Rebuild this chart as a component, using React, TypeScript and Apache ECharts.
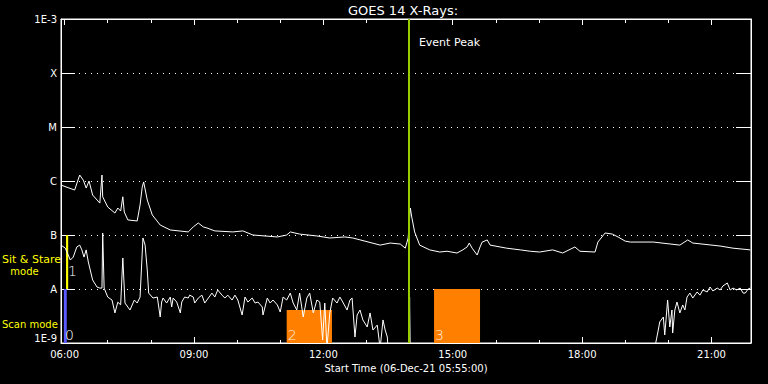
import React, { useEffect, useRef } from 'react';
import * as echarts from 'echarts';

const X_MIN = '05:55';
const X_MAX = '21:55';
const majorHours = [6, 9, 12, 15, 18, 21];
const minorHours = [6, 7, 8, 9, 10, 11, 12, 13, 14, 15, 16, 17, 18, 19, 20, 21];
const levelExps = [-9, -8, -7, -6, -5, -4, -3];
const levelLabels = ['1E-9', 'A', 'B', 'C', 'M', 'X', '1E-3'];

// GOES long channel (1-8 A)
const longTimes = [
  '05:55', '06:14', '06:21', '06:26', '06:30', '06:34', '06:39', '06:49', '06:52', '06:53',
  '07:00', '07:10', '07:14', '07:18', '07:21', '07:23', '07:28', '07:41', '07:45', '07:48',
  '07:50', '07:55', '08:02', '08:13', '08:27', '08:52', '08:59', '09:06', '09:13', '09:18',
  '09:29', '09:54', '10:08', '10:22', '10:56', '11:09', '11:14', '11:27', '11:51', '12:09',
  '12:30', '12:41', '13:19', '13:33', '13:47', '13:54', '13:58', '14:01', '14:03', '14:07',
  '14:14', '14:28', '14:42', '14:52', '15:06', '15:14', '15:20', '15:23', '15:27', '15:34',
  '15:38', '15:41', '15:48', '15:52', '16:15', '16:34', '16:48', '17:01', '17:19', '17:33',
  '17:50', '17:57', '18:18', '18:22', '18:32', '18:42', '18:50', '19:00', '19:07', '19:39',
  '20:16', '20:27', '20:34', '21:12', '21:30', '21:54',
];
const longFlux = [
  8.4e-7, 6.8e-7, 1.29e-6, 1.04e-6, 7.4e-7, 1.0e-6, 5.5e-7, 3.9e-7, 1.29e-6, 5.1e-7,
  3.3e-7, 2.55e-7, 3.16e-7, 2.78e-7, 5.1e-7, 2.67e-7, 1.9e-7, 1.82e-7, 3.6e-7, 7.7e-7,
  9.6e-7, 4.45e-7, 2.35e-7, 1.53e-7, 1.24e-7, 1.14e-7, 1.41e-7, 1.67e-7, 1.41e-7, 1.35e-7,
  1.19e-7, 1.14e-7, 1.19e-7, 1.0e-7, 9.2e-8, 1.0e-7, 1.14e-7, 1.04e-7, 9.6e-8, 8.8e-8,
  9.2e-8, 8.8e-8, 6.5e-8, 7.1e-8, 6.8e-8, 5.7e-8, 8.8e-8, 3.16e-7, 2.15e-7, 1.14e-7,
  6.5e-8, 5.3e-8, 4.84e-8, 5.0e-8, 4.64e-8, 5.3e-8, 6.0e-8, 7.1e-8, 5.7e-8, 4.26e-8,
  6.0e-8, 7.4e-8, 8.1e-8, 6.5e-8, 5.7e-8, 5.3e-8, 5.0e-8, 4.84e-8, 5.3e-8, 4.64e-8,
  6.0e-8, 5.0e-8, 4.84e-8, 7.4e-8, 1.09e-7, 1.04e-7, 9.2e-8, 7.7e-8, 7.4e-8, 7.4e-8,
  6.5e-8, 8.1e-8, 7.1e-8, 6.25e-8, 5.7e-8, 5.3e-8,
];

// GOES short channel (0.5-4 A)
const shortTimes = [
  '05:55', '06:01', '06:08', '06:12', '06:17', '06:21', '06:24', '06:27', '06:30', '06:33',
  '06:39', '06:45', '06:49', '06:52', '06:53', '06:55', '07:00', '07:06', '07:10', '07:14',
  '07:18', '07:21', '07:24', '07:31', '07:37', '07:41', '07:45', '07:49', '07:52', '07:55',
  '07:57', '08:03', '08:09', '08:13', '08:15', '08:17', '08:22', '08:27', '08:29', '08:31',
  '08:36', '08:41', '08:43', '08:47', '08:52', '08:54', '08:59', '09:01', '09:06', '09:11',
  '09:15', '09:20', '09:25', '09:29', '09:33', '09:39', '09:43', '09:47', '09:53', '09:57',
  '10:01', '10:07', '10:11', '10:15', '10:21', '10:25', '10:29', '10:35', '10:36', '10:42',
  '10:46', '10:50', '10:56', '11:00', '11:04', '11:09', '11:14', '11:18', '11:23', '11:27',
  '11:32', '11:37', '11:41', '11:46', '11:51', '11:55', '11:59', '12:02', '12:05', '12:09',
  '12:13', '12:19', '12:23', '12:27', '12:33', '12:37', '12:40', '12:44', '12:47', '12:51',
  '12:55', '13:01', '13:05', '13:09', '13:15', '13:19', '13:23', '13:26', '13:29', '13:31',
  '13:59', '14:00', '14:01', '19:40', '19:41', '19:46', '19:48', '19:53', '19:55', '19:59',
  '20:02', '20:05', '20:06', '20:09', '20:12', '20:16', '20:20', '20:23', '20:26', '20:30',
  '20:34', '20:40', '20:44', '20:48', '20:54', '20:58', '21:02', '21:08', '21:12', '21:16',
  '21:22', '21:26', '21:30', '21:35', '21:40', '21:44', '21:47', '21:51', '21:54',
];
const shortFlux = [
  6.5e-8, 5.7e-8, 3.44e-8, 3.9e-8, 6.0e-8, 6.5e-8, 5.3e-8, 3.9e-8, 5.3e-8, 3.16e-8,
  1.47e-8, 1.09e-8, 1.04e-8, 1.04e-8, 1.09e-7, 1.04e-8, 7.1e-9, 6.25e-9, 3.6e-9, 5.7e-9,
  5.1e-9, 3.75e-8, 5.5e-9, 4.08e-9, 6.25e-9, 5.5e-9, 7.1e-9, 8.8e-8, 6.5e-8, 2.25e-8,
  8.4e-9, 6.8e-9, 7.1e-9, 3.03e-9, 5.74e-9, 6.8e-9, 5.5e-9, 7.1e-9, 4.64e-9, 6.8e-9,
  5.74e-9, 3.6e-9, 5.74e-9, 7.1e-9, 6.8e-9, 7.7e-9, 7.1e-9, 5.5e-9, 6.8e-9, 7.7e-9,
  5.5e-9, 6.8e-9, 8.4e-9, 7.1e-9, 9.6e-9, 7.7e-9, 6.8e-9, 7.7e-9, 6.25e-9, 7.7e-9,
  6.25e-9, 3.3e-9, 7.1e-9, 5.74e-9, 6.8e-9, 5.5e-9, 5.74e-9, 4.64e-9, 3.3e-9, 6.8e-9,
  5.5e-9, 6.25e-9, 5.06e-9, 3.75e-9, 7.1e-9, 6.25e-9, 8.4e-9, 5.5e-9, 4.08e-9, 8.4e-9,
  3.03e-9, 6.8e-9, 8.4e-9, 3.6e-9, 6.25e-9, 5.74e-9, 1.14e-9, 5.5e-9, 8e-10, 3.6e-9,
  6.8e-9, 5.5e-9, 7.1e-9, 5.74e-9, 4.08e-9, 6.25e-9, 6.8e-9, 1.29e-9, 3.3e-9, 4.08e-9,
  2.67e-9, 1.98e-9, 3.6e-9, 1.74e-9, 2.15e-9, 8e-10, 2.67e-9, 1.74e-9, 1.29e-9, 5e-10,
  5e-10, 7.1e-9, 5e-10, 5e-10, 8e-10, 1.74e-9, 2.45e-9, 3.03e-9, 1.41e-9, 6.25e-9,
  1.98e-9, 4.08e-9, 1.53e-9, 4.08e-9, 5.74e-9, 3.6e-9, 5.06e-9, 4.08e-9, 7.1e-9, 8.4e-9,
  6.8e-9, 8.8e-9, 7.7e-9, 9.6e-9, 8.8e-9, 1.09e-8, 9.2e-9, 1.04e-8, 9.6e-9, 1.14e-8,
  1.29e-8, 9.6e-9, 1.04e-8, 9.6e-9, 1.04e-8, 8.4e-9, 8.4e-9, 1.0e-8, 1.04e-8,
];

const regionNames = ['0', '1', '2', '3'];
const regionStart = ['05:59', '06:02', '11:09', '14:34'];
const regionEnd = ['06:03', '06:05', '12:12', '15:38'];
const regionLow = [1e-9, 1e-8, 1e-9, 1e-9];
const regionHigh = [1e-8, 1e-7, 4.1e-9, 1e-8];
const regionColors = ['#5a5aff', '#ffff00', '#ff8000', '#ff8000'];
const regionLabelColors = ['#ffffff', '#ffffff', '#fff0e0', '#fff0e0'];

const eventTime = '13:59';
const eventLabel = 'Event Peak';
const eventLabelFlux = 3.6e-4;

const FONT = 'DejaVu Sans';

function toH(s: string): number {
  const [h, m] = s.split(':').map(Number);
  return h + m / 60;
}

export default function App() {
  const ref = useRef<HTMLDivElement>(null);
  useEffect(() => {
    if (!ref.current) return;
    const chart = echarts.init(ref.current, undefined, { renderer: 'svg' });
    const xmin = toH(X_MIN);
    const xmax = toH(X_MAX);
    const hourFmt = (v: number) => String(Math.round(v)).padStart(2, '0') + ':00';
    const levelFmt = (v: number) => {
      const e = Math.round(Math.log10(v));
      const i = levelExps.indexOf(e);
      return i >= 0 ? levelLabels[i] : '';
    };
    const xBase = (position: string, ticks: number[], len: number, showLine: boolean, showLabel: boolean) => ({
      type: 'value',
      position,
      min: xmin,
      max: xmax,
      axisLine: { show: showLine, lineStyle: { color: '#fff', width: 1 } },
      axisTick: { show: true, inside: true, length: len, customValues: ticks, lineStyle: { color: '#fff', width: 1 } },
      axisLabel: showLabel
        ? { show: true, customValues: ticks, color: '#fff', fontSize: 10, fontFamily: FONT, margin: 6, formatter: hourFmt }
        : { show: false },
      splitLine: { show: false },
    });
    const longData = longTimes.map((t, i) => [toH(t), longFlux[i]]);
    const shortData = shortTimes.map((t, i) => [toH(t), shortFlux[i]]);
    const areas = regionNames.map((n, i) => [
      {
        name: n,
        xAxis: toH(regionStart[i]),
        yAxis: regionLow[i],
        itemStyle: { color: regionColors[i], opacity: 1 },
        label: {
          show: true,
          position: 'insideBottomLeft',
          distance: 1,
          offset: i === 1 ? [1, -10] : [0, 0],
          color: regionLabelColors[i],
          fontSize: 14,
          fontFamily: FONT,
          fontWeight: 200,
          formatter: '{b}',
        },
      },
      { xAxis: toH(regionEnd[i]), yAxis: regionHigh[i] },
    ]);
    chart.setOption({
      animation: false,
      backgroundColor: '#000',
      grid: { left: 61, right: 17, top: 19, bottom: 41, show: true, borderColor: '#fff', borderWidth: 1, backgroundColor: 'transparent' },
      xAxis: [
        {
          ...xBase('bottom', majorHours, 6, true, true),
          name: 'Start Time (06-Dec-21 05:55:00)',
          nameLocation: 'middle',
          nameGap: 20,
          nameTextStyle: { color: '#fff', fontSize: 10, fontFamily: FONT },
        },
        xBase('bottom', minorHours, 3, false, false),
        xBase('top', majorHours, 6, true, false),
        xBase('top', minorHours, 4, false, false),
      ],
      yAxis: [
        {
          type: 'log',
          logBase: 10,
          min: 1e-9,
          max: 1e-3,
          position: 'left',
          axisLine: { show: true, lineStyle: { color: '#fff', width: 1 } },
          axisTick: { show: true, inside: true, length: 14, lineStyle: { color: '#fff', width: 1 } },
          axisLabel: {
            show: true,
            color: '#fff',
            fontSize: 10,
            fontFamily: FONT,
            margin: 4,
            formatter: levelFmt,
            verticalAlignMinLabel: 'bottom',
            verticalAlignMaxLabel: 'top',
          },
          splitLine: { show: true, lineStyle: { color: '#fff', width: 1, type: [1, 5] } },
        },
        {
          type: 'log',
          logBase: 10,
          min: 1e-9,
          max: 1e-3,
          position: 'right',
          axisLine: { show: true, lineStyle: { color: '#fff', width: 1 } },
          axisTick: { show: true, inside: true, length: 15, lineStyle: { color: '#fff', width: 1 } },
          axisLabel: { show: false },
          splitLine: { show: false },
        },
      ],
      graphic: [
        { type: 'text', x: 403, y: 10, style: { text: 'GOES 14 X-Rays:', fill: '#fff', fontSize: 13, fontFamily: FONT, align: 'center', verticalAlign: 'middle' } },
        { type: 'text', x: 2, y: 259, style: { text: 'Sit & Stare', fill: '#ffff00', fontSize: 11, fontFamily: FONT, align: 'left', verticalAlign: 'middle' } },
        { type: 'text', x: 24.5, y: 271.5, style: { text: 'mode', fill: '#ffff00', fontSize: 10, fontFamily: FONT, align: 'center', verticalAlign: 'middle' } },
        { type: 'text', x: 2, y: 324, style: { text: 'Scan mode', fill: '#ffff00', fontSize: 10, fontFamily: FONT, align: 'left', verticalAlign: 'middle' } },
      ],
      series: [
        {
          name: 'regions',
          type: 'line',
          data: [],
          z: 1,
          markArea: { silent: true, data: areas },
        },
        {
          name: 'long',
          type: 'line',
          data: longData,
          showSymbol: false,
          z: 2,
          lineStyle: { color: '#fff', width: 1 },
          clip: true,
        },
        {
          name: 'short',
          type: 'line',
          data: shortData,
          showSymbol: false,
          z: 2,
          lineStyle: { color: '#fff', width: 1 },
          clip: true,
        },
        {
          name: 'event',
          type: 'line',
          data: [],
          z: 3,
          markLine: {
            silent: true,
            symbol: ['none', 'none'],
            lineStyle: { color: '#99cc00', width: 2, type: 'solid' },
            label: { show: false },
            data: [{ xAxis: toH(eventTime) }],
          },
          markPoint: {
            silent: true,
            symbol: 'circle',
            symbolSize: 0,
            label: { show: true, position: 'right', distance: 10, formatter: '{b}', color: '#fff', fontSize: 11, fontFamily: FONT },
            data: [{ name: eventLabel, coord: [toH(eventTime), eventLabelFlux] }],
          },
        },
      ],
    });
    return () => chart.dispose();
  }, []);
  return (
    <div
      ref={ref}
      style={{ position: 'fixed', left: 0, top: 0, width: 768, height: 384, background: '#000' }}
    />
  );
}
